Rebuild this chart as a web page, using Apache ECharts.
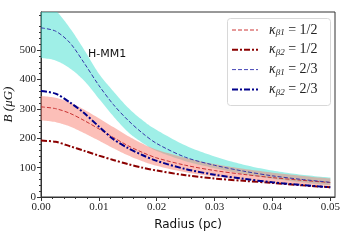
<!DOCTYPE html>
<html><head><meta charset="utf-8">
<script src="https://cdn.jsdelivr.net/npm/echarts@6/dist/echarts.min.js"></script>
<style>html,body{margin:0;padding:0;background:#fff}#c{width:341px;height:240px}</style>
</head><body><div id="c"></div>
<script>
const radius = [0,0.0025,0.005,0.0075,0.01,0.0125,0.015,0.0175,0.02,0.025,0.03,0.035,0.04,0.045,0.05];
const xTicks = [0,0.01,0.02,0.03,0.04,0.05];
const yTicks = [0,100,200,300,400,500];
const blueDashed = [576,565,525,455,380,315,262,218,182,135,108,88,72,60,50];
const blueDashDot = [361,352,322,285,240,197,167,143,123,95,76,62,50,41,33];
const redDashed = [307,301,285,260,232,203,175,152,133,108,90,77,66,57,49];
const darkRedDashDot = [192,188,173,157,141,126,112,100,90,74,63,55,48,40,33];
const cyanLower = [474,465,438,395,335,275,222,185,157,122,98,78,62,50,40];
const cyanUpper = [660,635,575,500,420,360,305,262,228,175,138,110,90,76,66];
const redLower = [261,255,240,217,192,166,142,122,106,84,70,59,51,44,38];
const redUpper = [344,338,322,297,268,238,208,182,161,133,112,96,83,72,63];
const legendItems = [
  {sub:'β1', val:'1/2', color:'#cc3535', width:1, dash:[4,2]},
  {sub:'β2', val:'1/2', color:'#8b0000', width:2, dash:[6,2,2,2]},
  {sub:'β1', val:'2/3', color:'#4545b5', width:1, dash:[4,2]},
  {sub:'β2', val:'2/3', color:'#00008b', width:2, dash:[6,2,2,2]}
];
const pairs = a => radius.map((r,i)=>[r,a[i]]);

// Catmull-Rom sampling in pixel space (rendering only)
function sampleCurve(pts){
  const out=[];
  for(let i=0;i<pts.length-1;i++){
    const p0=pts[i-1]||pts[i], p1=pts[i], p2=pts[i+1], p3=pts[i+2]||pts[i+1];
    const c1=[p1[0]+(p2[0]-p0[0])/6, p1[1]+(p2[1]-p0[1])/6];
    const c2=[p2[0]-(p3[0]-p1[0])/6, p2[1]-(p3[1]-p1[1])/6];
    for(let k=0;k<12;k++){
      const t=k/12, mt=1-t;
      out.push([
        mt*mt*mt*p1[0]+3*mt*mt*t*c1[0]+3*mt*t*t*c2[0]+t*t*t*p2[0],
        mt*mt*mt*p1[1]+3*mt*mt*t*c1[1]+3*mt*t*t*c2[1]+t*t*t*p2[1]
      ]);
    }
  }
  out.push(pts[pts.length-1]);
  return out;
}
const band = (lower, upper, color) => ({
  type:'custom', clip:true, silent:true, z:1,
  data: radius.map((r,i)=>[r, lower[i], upper[i]]),
  encode:{x:0, y:[1,2]},
  renderItem:(params, api)=>{
    if(params.dataIndex!==0) return;
    const up = sampleCurve(radius.map((r,i)=>api.coord([r, upper[i]])));
    const lo = sampleCurve(radius.map((r,i)=>api.coord([r, lower[i]]))).reverse();
    return {type:'polygon', shape:{points:up.concat(lo)}, style:{fill:color}};
  }
});
const line = (name, data, color, width, dash) => ({
  name, type:'line', data:pairs(data), smooth:0.3, symbol:'none', z:3,
  lineStyle:{color, width, type:dash}
});

const legendGraphics = [{type:'rect', left:227, top:18, shape:{width:103, height:87, r:3},
  style:{fill:'#fff', stroke:'#d8d8d8', lineWidth:1}, z:10}];
legendItems.forEach((it,i)=>{
  const y = 30 + i*19.8;
  legendGraphics.push({type:'line', shape:{x1:232, y1:y, x2:258, y2:y},
    style:{stroke:it.color, lineWidth:it.width, lineDash:it.dash}, z:11});
  legendGraphics.push({type:'text', x:269, y:y, z:11, style:{
    text:'{k|κ}{s|'+it.sub+'}{e| = '+it.val+'}', verticalAlign:'middle',
    rich:{
      k:{fontFamily:'Liberation Serif', fontStyle:'italic', fontSize:14, fill:'#222'},
      s:{fontFamily:'Liberation Serif', fontStyle:'italic', fontSize:9, fill:'#222', padding:[6,0,0,0]},
      e:{fontFamily:'Liberation Serif', fontSize:14, fill:'#222'}
    }}});
});

const chart = echarts.init(document.getElementById('c'), null, {renderer:'canvas'});
chart.setOption({
  animation:false,
  grid:{left:41, right:6, top:12, bottom:43, outerBoundsMode:'none', containLabel:false,
    show:true, borderColor:'#333', borderWidth:1, backgroundColor:'transparent'},
  xAxis:{type:'value', min:0, max:0.0508,
    axisLine:{show:true, lineStyle:{color:'#333'}},
    axisTick:{show:true, inside:false, length:4, customValues:xTicks, lineStyle:{color:'#333'}},
    minorTick:{show:true, splitNumber:5, length:2, lineStyle:{color:'#333'}},
    axisLabel:{customValues:xTicks, formatter:v=>v.toFixed(2), color:'#222', fontFamily:'Liberation Serif', fontSize:11, margin:5},
    splitLine:{show:false},
    name:'Radius (pc)', nameLocation:'middle', nameGap:22, nameMoveOverlap:false,
    nameTextStyle:{fontFamily:'DejaVu Sans', fontSize:12, color:'#111'}
  },
  yAxis:{type:'value', min:0, max:630,
    axisLine:{show:true, lineStyle:{color:'#333'}},
    axisTick:{show:true, inside:false, length:4, customValues:yTicks, lineStyle:{color:'#333'}},
    minorTick:{show:true, splitNumber:5, length:2, lineStyle:{color:'#333'}},
    axisLabel:{customValues:yTicks, color:'#222', fontFamily:'Liberation Serif', fontSize:11, margin:5},
    splitLine:{show:false},
    name:'B (μG)', nameLocation:'middle', nameGap:26, nameRotate:90, nameMoveOverlap:false,
    nameTextStyle:{fontFamily:'Liberation Serif', fontStyle:'italic', fontSize:13, color:'#111'}
  },
  graphic:[{type:'text', left:88, top:49, style:{text:'H-MM1', fontFamily:'DejaVu Sans', fontSize:11, fill:'#111'}}].concat(legendGraphics),
  series:[
    band(cyanLower, cyanUpper, 'rgba(64,224,208,0.5)'),
    band(redLower, redUpper, 'rgba(250,128,114,0.5)'),
    line('s1', redDashed, '#c83232', 1, [4,2]),
    line('s2', darkRedDashDot, '#8b0000', 2, [6,2,2,2]),
    line('s3', blueDashed, '#3535a8', 1, [4,2]),
    line('s4', blueDashDot, '#00008b', 2, [6,2,2,2])
  ]
});
</script></body></html>
